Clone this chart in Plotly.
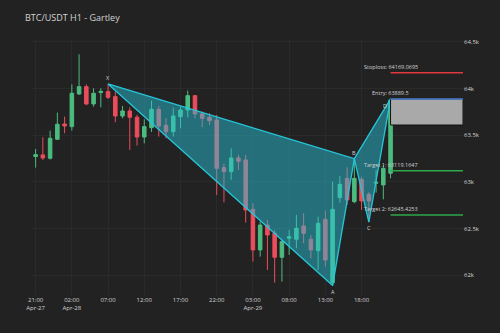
import plotly.graph_objects as go
import pandas as pd

# ---- data ----
start_time = "2024-04-27 21:00"
opens = [63272, 63290, 63254, 63457, 63621, 63593, 63943, 64021, 63836, 63957,
         63968, 63914, 63707, 63761, 63693, 63482, 63582, 63779, 63607, 63539,
         63700, 63771, 63925, 63729, 63693, 63664, 63154, 63111, 63257, 63236,
         62707, 62272, 62539, 62450, 62193, 62397, 62386, 62529, 62386, 62264,
         62600, 61921, 62832, 63039, 62789, 63029, 62868, 62986, 62968, 63093]
highs = [63354, 63479, 63550, 63743, 63700, 64046, 64368, 64046, 64004, 64004,
         64050, 63968, 63814, 63800, 63718, 63671, 63871, 63814, 63682, 63796,
         63807, 63979, 63932, 63754, 63736, 63718, 63200, 63361, 63290, 63290,
         62772, 62575, 62593, 62486, 62379, 62486, 62647, 62665, 62432, 62629,
         62693, 63004, 63064, 63157, 63250, 63057, 62890, 63129, 63182, 63895]
lows = [63154, 63236, 63240, 63450, 63522, 63550, 63932, 63822, 63807, 63800,
        63889, 63639, 63682, 63343, 63389, 63414, 63536, 63486, 63468, 63486,
        63575, 63693, 63682, 63586, 63611, 62861, 62782, 63022, 63129, 62565,
        62147, 62200, 62057, 61921, 61932, 62218, 62289, 62343, 62182, 62057,
        62093, 61890, 62779, 62754, 62772, 62700, 62570, 62886, 62814, 63039]
closes = [63293, 63257, 63468, 63618, 63600, 63950, 64021, 63836, 63950, 63971,
          63907, 63707, 63761, 63693, 63482, 63593, 63779, 63600, 63539, 63707,
          63771, 63925, 63729, 63682, 63657, 63146, 63111, 63257, 63222, 62700,
          62272, 62539, 62432, 62193, 62361, 62414, 62504, 62450, 62272, 62557,
          62164, 62707, 62975, 62807, 63039, 62797, 62797, 62996, 63146, 63879]

pattern_labels = ["X", "A", "B", "C", "D"]
pattern_idx = [10, 41, 44, 46, 49]
pattern_prices = [64050, 61890, 63250, 62570, 63889.5]

entry = 63889.5
stoploss = 64169.0695
target1 = 63119.1647
target2 = 62645.4253
box_bottom = 63610
trade_end = "2024-04-30 08:00"
x_start = "2024-04-27 20:30"

times = pd.date_range(start_time, periods=len(opens), freq="h")
tick_vals = list(times[::5])
tick_text = []
prev_day = None
for t in tick_vals:
    day = t.strftime("%b-%d")
    lab = t.strftime("%H:%M")
    if day != prev_day:
        lab += "<br>" + day
        prev_day = day
    tick_text.append(lab)

px = [times[i] for i in pattern_idx]
pp = pattern_prices

BG = "#222222"
GREEN = "#4cbb7f"
RED = "#eb4d5c"
CYAN = "#26c6da"
FILL = "rgba(38,198,218,0.47)"
TXT = "#d2d2d2"

fig = go.Figure()
fig.add_trace(go.Candlestick(
    x=times, open=opens, high=highs, low=lows, close=closes,
    increasing=dict(line=dict(color=GREEN, width=1), fillcolor=GREEN),
    decreasing=dict(line=dict(color=RED, width=1), fillcolor=RED),
    showlegend=False, hoverinfo="skip"))

# triangles X-A-B and B-C-D
fig.add_trace(go.Scatter(x=[px[0], px[1], px[2], px[0]], y=[pp[0], pp[1], pp[2], pp[0]],
                         mode="lines", fill="toself", fillcolor=FILL,
                         line=dict(color=CYAN, width=1.3), showlegend=False, hoverinfo="skip"))
fig.add_trace(go.Scatter(x=[px[2], px[3], px[4], px[2]], y=[pp[2], pp[3], pp[4], pp[2]],
                         mode="lines", fill="toself", fillcolor=FILL,
                         line=dict(color=CYAN, width=1.3), showlegend=False, hoverinfo="skip"))

# entry box and levels
d_time = px[4]
fig.add_shape(type="rect", x0=d_time, x1=trade_end, y0=box_bottom, y1=entry,
              fillcolor="#a9a9a9", line=dict(color="#111111", width=1), layer="above")
fig.add_shape(type="line", x0=d_time, x1=trade_end, y0=entry, y1=entry,
              line=dict(color="#4a7fd6", width=1.5))
fig.add_shape(type="line", x0=d_time, x1=trade_end, y0=stoploss, y1=stoploss,
              line=dict(color="#e0393e", width=1.5))
for tgt in (target1, target2):
    fig.add_shape(type="line", x0=d_time, x1=trade_end, y0=tgt, y1=tgt,
                  line=dict(color="#2ea84a", width=1.5))

level_texts = [("Stoploss: %s" % stoploss, stoploss), ("Entry: %s" % entry, entry),
               ("Target 1: %s" % target1, target1), ("Target 2: %s" % target2, target2)]
for txt, lv in level_texts:
    fig.add_annotation(x=d_time, y=lv, text=txt, showarrow=False, yanchor="bottom",
                       xanchor="center", font=dict(size=5.5, color=TXT, family="Open Sans"))

for lab, x, y in zip(pattern_labels, px, pp):
    if lab in ("A", "C"):
        kw = dict(yanchor="top")
    elif lab == "D":
        kw = dict(yanchor="top", xanchor="right", xshift=-2, yshift=-1)
    else:
        kw = dict(yanchor="bottom")
    fig.add_annotation(x=x, y=y, text=lab, showarrow=False,
                       font=dict(size=5.5, color=TXT, family="Open Sans"), **kw)

fig.update_layout(
    width=500, height=333,
    margin=dict(l=32, r=37, t=40, b=38),
    paper_bgcolor=BG, plot_bgcolor=BG,
    font=dict(family="Open Sans", color=TXT, size=6),
    title=dict(text="BTC/USDT H1 - Gartley", x=0.05, xanchor="left", y=1 - 18 / 333,
               yanchor="middle", font=dict(size=9, color=TXT)),
    showlegend=False,
    xaxis=dict(range=[x_start, trade_end], tickvals=tick_vals, ticktext=tick_text,
               showgrid=True, gridcolor="#2a2a2a", gridwidth=1, zeroline=False,
               rangeslider=dict(visible=False), tickfont=dict(size=6, color=TXT),
               showline=False, ticks=""),
    yaxis=dict(range=[61789, 64521], side="right", dtick=500, tick0=62000,
               showgrid=True, gridcolor="#2a2a2a", gridwidth=1, zeroline=False,
               tickfont=dict(size=6, color=TXT), showline=False, ticks=""),
)

fig.write_html("out.html")
